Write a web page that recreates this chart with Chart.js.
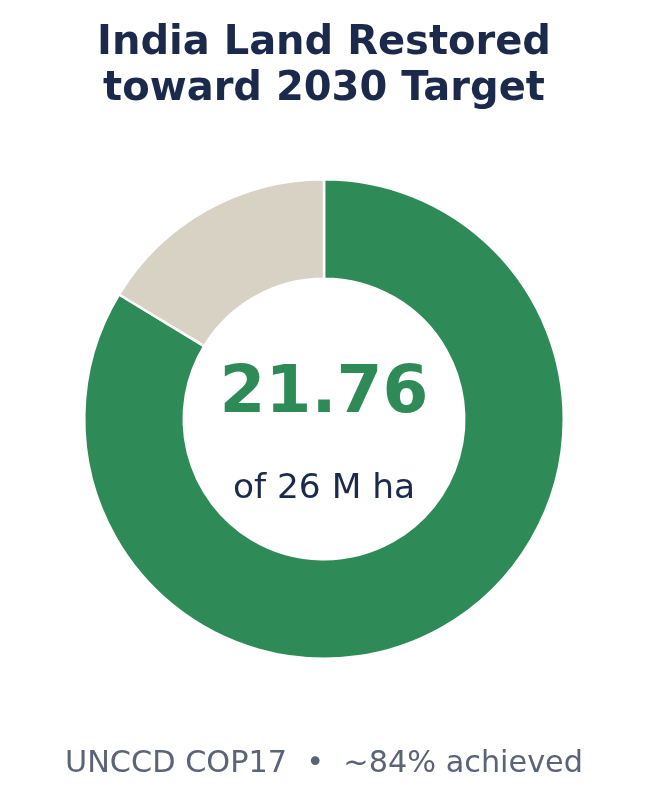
<!DOCTYPE html>
<html lang="en">
<head>
    <meta charset="UTF-8">
    <title>India Land Restored toward 2030 Target</title>
    <script src="https://cdn.jsdelivr.net/npm/chart.js"></script>
    <style>
        body { margin: 0; background: #ffffff; }
        canvas { display: block; }
    </style>
</head>
<body>
    <canvas id="landChart" width="648" height="799"></canvas>

    <script>
        // data
        const titleLines = ['India Land Restored', 'toward 2030 Target'];
        const segmentLabels = ['Restored', 'Remaining'];
        const restored = 21.76;
        const target = 26;
        const segmentValues = [restored, +(target - restored).toFixed(2)];
        const centerValue = '21.76';
        const centerCaption = 'of 26 M ha';
        const footerText = 'UNCCD COP17  \u2022  ~84% achieved';

        const navy = '#1b2a4b';
        const green = '#2e8b57';

        // titles, centre text and footer
        const textPlugin = {
            id: 'textPlugin',
            afterDraw(chart) {
                const ctx = chart.ctx;
                const meta = chart.getDatasetMeta(0).data[0];
                const cx = meta.x, cy = meta.y;
                ctx.save();
                ctx.textAlign = 'center';
                ctx.textBaseline = 'alphabetic';

                ctx.fillStyle = navy;
                ctx.font = 'bold 40px "DejaVu Sans"';
                ctx.fillText(titleLines[0], chart.width / 2, 54);
                ctx.fillText(titleLines[1], chart.width / 2, 100);

                ctx.fillStyle = green;
                ctx.font = 'bold 66px "DejaVu Sans"';
                ctx.fillText(centerValue, cx, cy - 7);

                ctx.fillStyle = navy;
                ctx.font = '34.4px "DejaVu Sans"';
                ctx.fillText(centerCaption, cx, cy + 79);

                ctx.fillStyle = '#5b6376';
                ctx.font = '30.3px "DejaVu Sans"';
                ctx.fillText(footerText, chart.width / 2, 772);
                ctx.restore();
            }
        };

        new Chart(document.getElementById('landChart'), {
            type: 'doughnut',
            data: {
                labels: segmentLabels,
                datasets: [{
                    data: segmentValues,
                    backgroundColor: [green, '#d8d2c5'],
                    borderColor: '#ffffff',
                    borderWidth: 2.5,
                    hoverOffset: 0
                }]
            },
            options: {
                responsive: false,
                animation: false,
                cutout: '58.5%',
                layout: { padding: { top: 178, bottom: 139, left: 0, right: 0 } },
                plugins: {
                    legend: { display: false },
                    tooltip: { enabled: false },
                    title: { display: false }
                }
            },
            plugins: [textPlugin]
        });
    </script>
</body>
</html>
